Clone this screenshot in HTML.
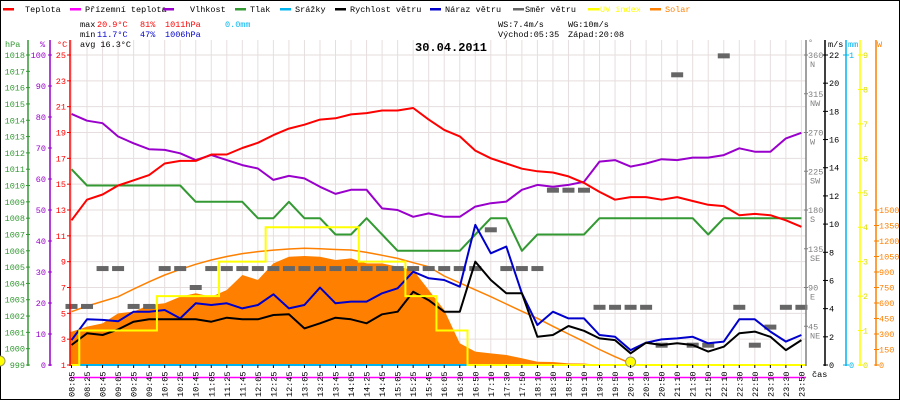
<!DOCTYPE html>
<html><head><meta charset="utf-8"><style>
html,body{margin:0;padding:0;background:#fff;}
svg{display:block;font-family:"Liberation Mono",monospace;}
</style></head><body>
<svg id="chart" width="900" height="400" viewBox="0 0 900 400" xmlns="http://www.w3.org/2000/svg">
<rect x="0.5" y="0.5" width="899" height="399" fill="#fff" stroke="#000"/>
<g id="grid"></g>
<g id="series"></g>
<g id="axes"></g>
<g id="legend" font-size="8.5">
 <g><rect x="3" y="8" width="11" height="2.5" fill="#f00"/><text x="25" y="12">Teplota</text></g>
 <g><rect x="70" y="8" width="11" height="2.5" fill="#f0f"/><text x="85" y="12">Přízemní teplota</text></g>
 <g><rect x="163" y="8" width="11" height="2.5" fill="#90c"/><text x="190" y="12">Vlhkost</text></g>
 <g><rect x="235" y="8" width="11" height="2.5" fill="#393"/><text x="250" y="12">Tlak</text></g>
 <g><rect x="280" y="8" width="11" height="2.5" fill="#00b4f0"/><text x="295" y="12">Srážky</text></g>
 <g><rect x="335" y="8" width="11" height="2.5" fill="#000"/><text x="350" y="12">Rychlost větru</text></g>
 <g><rect x="430" y="8" width="11" height="2.5" fill="#00c"/><text x="445" y="12">Náraz větru</text></g>
 <g><rect x="513" y="8" width="11" height="2.5" fill="#666"/><text x="525" y="12">Směr větru</text></g>
 <g><rect x="588" y="8" width="11" height="2.5" fill="#ff0"/><text x="600" y="12" fill="#ff0">UV index</text></g>
 <g><rect x="650" y="8" width="11" height="2.5" fill="#ff8000"/><text x="665" y="12" fill="#ff8000">Solar</text></g>
</g>
<g id="stats" font-size="8.5">
 <text x="80" y="27">max</text><text x="97" y="27" fill="#f00">20.9°C</text><text x="140" y="27" fill="#f00">81%</text><text x="165" y="27" fill="#f00">1011hPa</text><text x="225" y="27" fill="#00b4f0">0.0mm</text>
 <text x="80" y="37">min</text><text x="97" y="37" fill="#00c">11.7°C</text><text x="140" y="37" fill="#00c">47%</text><text x="165" y="37" fill="#00c">1006hPa</text>
 <text x="80" y="47">avg 16.3°C</text>
 <text x="498" y="27">WS:7.4m/s</text><text x="568" y="27">WG:10m/s</text>
 <text x="498" y="37">Východ:05:35</text><text x="568" y="37">Západ:20:08</text>
 <text x="415" y="51" font-size="12" font-weight="bold">30.04.2011</text>
</g>
</svg>
<script>
const timeLabels=["08:05","08:25","08:45","09:05","09:25","09:45","10:05","10:25","10:45","11:05","11:25","11:45","12:05","12:25","12:45","13:05","13:25","13:45","14:05","14:25","14:45","15:05","15:25","15:45","16:05","16:30","16:50","17:10","17:30","17:50","18:10","18:30","18:50","19:10","19:30","19:50","20:10","20:30","20:50","21:10","21:30","21:50","22:10","22:30","22:50","23:10","23:30","23:50"];
const temperature=[12.2,13.8,14.2,14.9,15.3,15.7,16.6,16.8,16.8,17.3,17.3,17.8,18.2,18.8,19.3,19.6,20.0,20.1,20.4,20.5,20.7,20.7,20.9,20.0,19.2,18.7,17.6,17.0,16.6,16.2,16.0,15.9,15.6,15.1,14.4,13.8,14.0,14.0,13.8,14.0,13.7,13.4,13.3,12.6,12.7,12.6,12.2,11.7];
const humidity=[81,78.8,78,73.7,71.5,69.6,69.4,68.3,66.1,67.7,66.1,64.5,63.4,59.7,61,60.2,57.5,55.2,56.5,56.5,50.5,50,47.8,48.9,47.8,47.8,51.1,52.2,52.7,56.5,58.1,57.5,58.1,59.1,65.6,66.1,64,65,66.4,66.1,66.9,66.9,67.7,69.9,68.8,68.8,73.1,74.9];
const pressure=[1011,1010,1010,1010,1010,1010,1010,1010,1009,1009,1009,1009,1008,1008,1009,1008,1008,1007,1007,1008,1007,1006,1006,1006,1006,1006,1007,1008,1008,1006,1007,1007,1007,1007,1008,1008,1008,1008,1008,1008,1008,1007,1008,1008,1008,1008,1008,1008];
const windSpeed=[1.42,2.25,2.13,2.53,3.07,3.24,3.24,3.24,3.24,3.07,3.36,3.24,3.24,3.55,3.6,2.6,2.96,3.36,3.24,2.96,3.6,3.78,5.2,4.6,3.78,3.78,7.33,6.03,5.09,5.09,2.0,2.13,2.77,2.43,1.89,1.77,0.83,1.58,1.42,1.54,1.42,0.95,1.3,2.25,2.37,2.0,1.06,1.77];
const windGust=[1.77,3.24,3.2,3.1,3.78,3.78,3.9,3.31,4.38,4.26,4.38,4.02,4.26,5.02,4.02,4.26,5.49,4.38,4.5,4.5,5.09,5.44,6.62,6.15,6.03,5.56,9.94,7.93,8.4,5.09,2.84,3.78,3.31,3.31,2.13,2.0,1.06,1.58,1.82,1.89,2.0,1.54,1.66,3.24,3.24,2.37,1.66,2.13];
const windDir=[68,68,112,112,68,68,112,112,90,112,112,112,112,112,112,112,112,112,112,112,112,112,112,112,112,112,112,157,112,112,112,203,203,203,67,67,67,67,23,337,23,23,359,67,23,44,67,67];
const uvIndex=[0,1,1,1,1,1,2,2,2,2,3,3,3,4,4,4,4,4,4,3,3,3,2,2,1,1,0,0,0,0,0,0,0,0,0,0,0,0,0,0,0,0,0,0,0,0,0,0];
const solar=[322,371,403,500,516,581,597,661,694,661,726,871,823,984,1048,1055,1048,1016,1032,984,984,951,919,726,532,210,129,113,97,65,32,29,16,15,0,0,0,0,0,0,0,0,0,0,0,0,0,0];
const solarMax=[516,570,615,661,735,805,871,925,975,1016,1050,1078,1097,1112,1123,1129,1125,1118,1113,1090,1062,1032,990,951,861,795,728,661,590,520,452,375,300,226,150,80,16];
const rain=new Array(48).fill(0);
const tempTicks=[25,23,21,19,17,15,13,11,9,7,5,3,1];
const humTicks=[100,90,80,70,60,50,40,30,20,10,0];
const presTicks=[1018,1017,1016,1015,1014,1013,1012,1011,1010,1009,1008,1007,1006,1005,1004,1003,1002,1001,1000,999];
const dirTicks=[360,315,270,225,180,135,90,45];
const dirNames=["N","NW","W","SW","S","SE","E","NE"];
const msTicks=[22,20,18,16,14,12,10,8,6,4,2,0];
const uvTicks=[9,8,7,6,5,4,3,2,1,0];
const solarTicks=[1500,1350,1200,1050,900,750,600,450,300,150,0];
const mmTicks=[1,0];

const NS="http://www.w3.org/2000/svg";
const TOP=55,BOT=365,L=70,R=806;
const x=i=>71.5+i*15.53;
const yT=t=>TOP+(25-t)*(BOT-TOP)/24;
const yH=h=>TOP+(100-h)*(BOT-TOP)/100;
const yP=p=>TOP+(1018-p)*(BOT-TOP)/19;
const yW=v=>BOT-v*(BOT-TOP)/22;
const yD=d=>BOT-d*(BOT-TOP)/360;
const yU=u=>BOT-u*(BOT-TOP)/9;
const yS=s=>BOT-s*155/1500;
const yR=r=>BOT-r*(BOT-TOP);
function mk(tag,attrs,parent){const e=document.createElementNS(NS,tag);for(const k in attrs)e.setAttribute(k,attrs[k]);parent.appendChild(e);return e;}
const grid=document.getElementById('grid'),ser=document.getElementById('series'),ax=document.getElementById('axes');

timeLabels.forEach((t,i)=>{
  const l=mk('line',{x1:x(i),x2:x(i),y1:40,y2:BOT,stroke:'#e6dede','stroke-width':1},grid);
  
  
});
tempTicks.forEach(t=>{
  if(t===1)return;
  const l=mk('line',{x1:L,x2:R,y1:yT(t),y2:yT(t),stroke:'#e6dede','stroke-width':1},grid);
  
  
});

// solar fill
let d='M'+L+','+BOT+' L'+L+','+yS(solar[0]);
solar.forEach((s,i)=>{d+=' L'+x(i)+','+yS(s);});
d+=' L'+x(solar.length-1)+','+BOT+' Z';
const sf=mk('path',{d:d,fill:'#ff8000'},ser);



function line(arr,fy,color,w,name){
  const pts=arr.map((v,i)=>x(i).toFixed(1)+','+fy(v).toFixed(1)).join(' ');
  const p=mk('polyline',{points:pts,fill:'none',stroke:color,'stroke-width':w,'stroke-linejoin':'round'},ser);
  
  
  return p;
}
line(solarMax,yS,'#ff8000',1.5,'solar-theoretical-line');

windDir.forEach((v,i)=>{
  const r=mk('rect',{x:x(i)-6,y:yD(v)-2.5,width:12,height:5,fill:'#666'},ser);
  
  
});

line(pressure,yP,'#339933',2,'pressure-line');
line(humidity,yH,'#9900cc',2,'humidity-line');
line(temperature,yT,'#ff0000',2,'temperature-line');
line(windGust,yW,'#0000cc',2,'wind-gust-line');
line(windSpeed,yW,'#000000',2,'wind-speed-line');

const rl=line(rain,yR,'#00b4f0',2,'rain-line');
// UV stepped
let ud='';
uvIndex.forEach((u,i)=>{
  const xa=i===0?L:x(i-0.5),xb=i===uvIndex.length-1?R:x(i+0.5);
  ud+=(i===0?'M':' L')+xa+','+yU(u)+' L'+xb+','+yU(u);
});
const up=mk('path',{d:ud,fill:'none',stroke:'#ffff00','stroke-width':2},ser);



const sun=mk('circle',{cx:x(36),cy:BOT-3,r:5,fill:'#ff0',stroke:'#996','stroke-width':1},ser);


const sun2=mk('circle',{cx:0,cy:361,r:5,fill:'#ff0',stroke:'#996','stroke-width':1},ser);



const mg=mk('line',{x1:L,x2:R,y1:377.5,y2:377.5,stroke:'#f0f','stroke-width':1.5},ser);



// axes
function axis(xp,color,name){
  const l=mk('line',{x1:xp,x2:xp,y1:40,y2:BOT+1,stroke:color,'stroke-width':1.5},ax);
  
  
}
function label(txt,xp,yp,color,anchor,name,size){
  const t=mk('text',{x:xp,y:yp,fill:color,'font-size':size||8.5,'text-anchor':anchor||'start'},ax);
  t.textContent=txt;
  
  
  return t;
}
function tick(xa,xb,yp,color){const l=mk('line',{x1:xa,x2:xb,y1:yp,y2:yp,stroke:color,'stroke-width':1},ax);
  
  }
axis(28,'#339933','pressure-axis');
axis(50,'#9900cc','humidity-axis');
axis(L,'#ff0000','temperature-axis');
axis(R,'#808080','direction-axis');
axis(825,'#000','wind-axis');
axis(846,'#00b4f0','rain-axis');
axis(860,'#ffff00','uv-axis');
axis(876,'#ff8000','solar-axis');
presTicks.forEach(p=>{tick(26,30,yP(p),'#339933');label(String(p),25,yP(p)+3,'#339933','end','pressure-tick-label');});
humTicks.forEach(h=>{tick(48,52,yH(h),'#9900cc');label(String(h),46,yH(h)+3,'#9900cc','end','humidity-tick-label');});
tempTicks.forEach(t=>{tick(67,71,yT(t),'#ff0000');label(String(t),66,yT(t)+3,'#ff0000','end','temperature-tick-label');});
dirTicks.forEach((v,i)=>{tick(804,808,yD(v),'#808080');label(String(v),808,yD(v)+3,'#808080','start','direction-tick-label');label(dirNames[i],810,yD(v)+12,'#808080','start','direction-name-label');});
msTicks.forEach(v=>{tick(823,828,yW(v),'#000');label(String(v),829,yW(v)+3,'#000','start','wind-tick-label');});
mmTicks.forEach(v=>{tick(843,849,yR(v),'#00b4f0');label(String(v),849,yR(v)+3,'#00b4f0','start','rain-tick-label');});
uvTicks.forEach(v=>{tick(858,863,yU(v),'#ffff00');label(String(v),863,yU(v)+3,'#dddd00','start','uv-tick-label');});
solarTicks.forEach(v=>{tick(874,879,yS(v),'#ff8000');label(String(v),879,yS(v)+3,'#ff8000','start','solar-tick-label');});
label('hPa',5,47,'#339933','start','pressure-axis-title');
label('%',40,47,'#9900cc','start','humidity-axis-title');
label('°C',57,47,'#ff0000','start','temperature-axis-title');
label('°',808,45,'#808080','start','direction-axis-title');
label('m/s',828,47,'#000','start','wind-axis-title');
label('mm',848,47,'#00b4f0','start','rain-axis-title');
label('W',877,47,'#ff8000','start','solar-axis-title');
label('čas',812,377,'#000','start','time-axis-title');
timeLabels.forEach((t,i)=>{
  tick(0,0,0,'none');
  const l=mk('line',{x1:x(i),x2:x(i),y1:BOT,y2:BOT+3,stroke:'#000','stroke-width':1},ax);
  
  
  const tx=mk('text',{x:0,y:0,'font-size':8.5,fill:'#000',transform:'translate('+(x(i)+3)+',397) rotate(-90)'},ax);
  tx.textContent=t;
  
  
});
</script>
</body></html>
